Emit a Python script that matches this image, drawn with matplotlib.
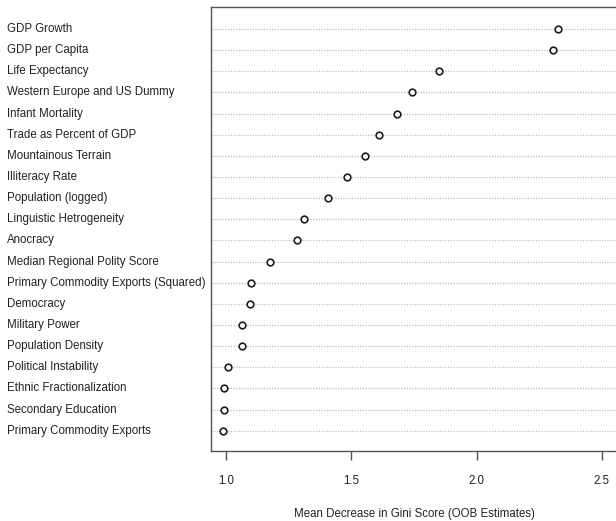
import matplotlib
matplotlib.use('Agg')
import matplotlib.pyplot as plt
import matplotlib.transforms as mtransforms

# variable importance, top to bottom as shown in the chart
labels = ['GDP Growth', 'GDP per Capita', 'Life Expectancy',
          'Western Europe and US Dummy', 'Infant Mortality',
          'Trade as Percent of GDP', 'Mountainous Terrain', 'Illiteracy Rate',
          'Population (logged)', 'Linguistic Hetrogeneity', 'Anocracy',
          'Median Regional Polity Score', 'Primary Commodity Exports (Squared)',
          'Democracy', 'Military Power', 'Population Density',
          'Political Instability', 'Ethnic Fractionalization',
          'Secondary Education', 'Primary Commodity Exports']
gini = [2.324, 2.306, 1.852, 1.743, 1.684, 1.610, 1.555, 1.482, 1.408, 1.311,
        1.285, 1.178, 1.101, 1.097, 1.066, 1.065, 1.010, 0.993, 0.993, 0.989]
xticks = [1.0, 1.5, 2.0, 2.5]
xlabel = 'Mean Decrease in Gini Score (OOB Estimates)'

plt.rcParams['font.family'] = ['Liberation Sans', 'DejaVu Sans']
fs = 8.3

W, H = 616, 521
fig = plt.figure(figsize=(W / 100, H / 100), dpi=100)
# axes box runs past the right edge, like the cropped original
ax = fig.add_axes([210.7 / W, 1 - 450.7 / H, (625 - 210.7) / W, (450.7 - 7.3) / H])

n = len(labels)
ypos = list(range(n, 0, -1))

for y in ypos:
    ax.axhline(y, color='#bdbdbd', linestyle=(0, (1, 1.2)), linewidth=0.9, zorder=1)
ax.plot(gini, ypos, linestyle='none', marker='o', markersize=4.8,
        markerfacecolor='white', markeredgecolor='#1e1e1e', markeredgewidth=1.2, zorder=3)

ax.set_xlim(0.940, 2.592)
ax.set_ylim(0.054, 21.03)
ax.set_yticks([])
ax.set_xticks(xticks)
ax.set_xticklabels([f'{t:.1f}' for t in xticks], fontsize=fs, color='#222222')
ax.tick_params(axis='x', direction='out', length=6.5, width=1, color='#555555', pad=11)

for s in ax.spines.values():
    s.set_color('#555555')
    s.set_linewidth(1)

trans = mtransforms.blended_transform_factory(fig.transFigure, ax.transData)
for lab, y in zip(labels, ypos):
    ax.text(7 / W, y, lab, transform=trans, ha='left', va='center',
            fontsize=fs, color='#222222', clip_on=False)

ax.set_xlabel(xlabel, fontsize=fs, color='#222222', va='center')
ax.xaxis.set_label_coords((414 - 210.7) / (625 - 210.7), (450.7 - 514) / (450.7 - 7.3))

fig.savefig('out.png', dpi=100)
